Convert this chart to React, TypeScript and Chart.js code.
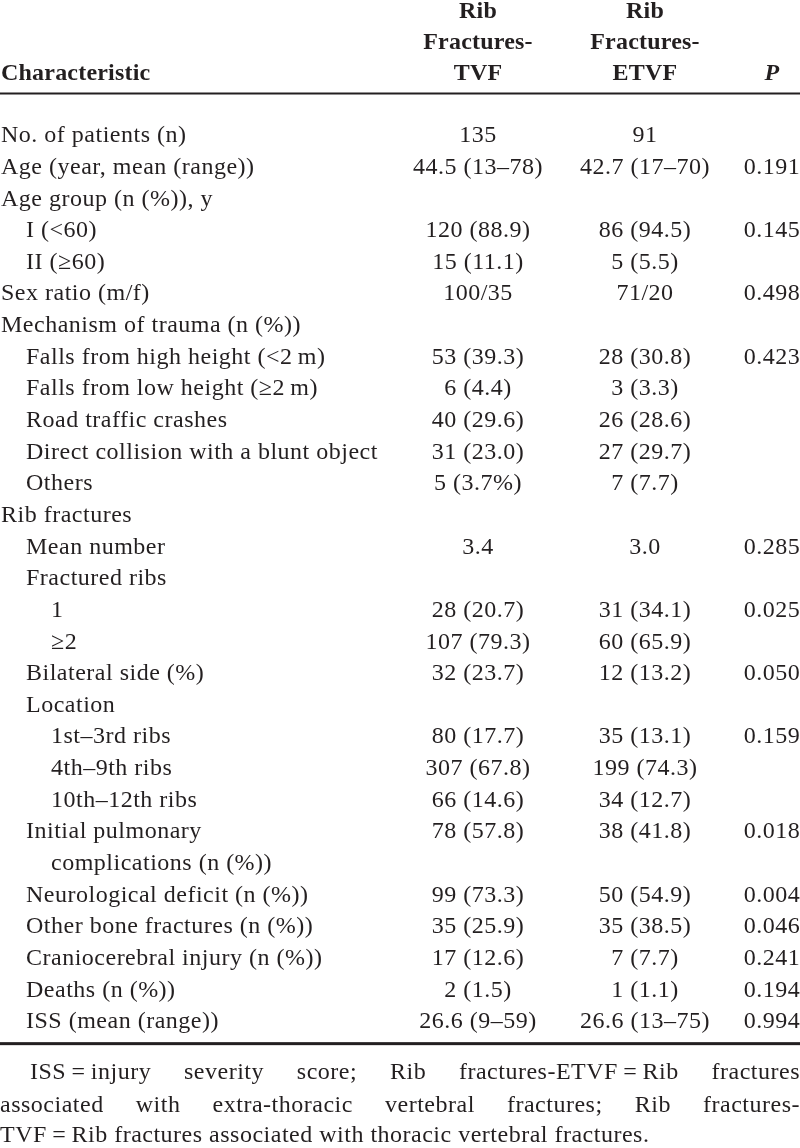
import React, { useEffect, useRef } from "react";
import { Chart, registerables } from "chart.js";

Chart.register(...registerables);

// ---------- data ----------
const headerTVF = ["Rib", "Fractures-", "TVF"];
const headerETVF = ["Rib", "Fractures-", "ETVF"];
const headerCharacteristic = "Characteristic";
const headerP = "P";

const rowLabels = [
  "No. of patients (n)",
  "Age (year, mean (range))",
  "Age group (n (%)), y",
  "I (<60)",
  "II (\u226560)",
  "Sex ratio (m/f)",
  "Mechanism of trauma (n (%))",
  "Falls from high height (<2\u2009m)",
  "Falls from low height (\u22652\u2009m)",
  "Road traffic crashes",
  "Direct collision with a blunt object",
  "Others",
  "Rib fractures",
  "Mean number",
  "Fractured ribs",
  "1",
  "\u22652",
  "Bilateral side (%)",
  "Location",
  "1st\u20133rd ribs",
  "4th\u20139th ribs",
  "10th\u201312th ribs",
  "Initial pulmonary",
  "complications (n (%))",
  "Neurological deficit (n (%))",
  "Other bone fractures (n (%))",
  "Craniocerebral injury (n (%))",
  "Deaths (n (%))",
  "ISS (mean (range))",
];

const rowIndent = [0, 0, 0, 1, 1, 0, 0, 1, 1, 1, 1, 1, 0, 1, 1, 2, 2, 1, 1, 2, 2, 2, 1, 2, 1, 1, 1, 1, 1];

const tvfValues = [
  "135", "44.5 (13\u201378)", "", "120 (88.9)", "15 (11.1)", "100/35", "",
  "53 (39.3)", "6 (4.4)", "40 (29.6)", "31 (23.0)", "5 (3.7%)", "",
  "3.4", "", "28 (20.7)", "107 (79.3)", "32 (23.7)", "",
  "80 (17.7)", "307 (67.8)", "66 (14.6)", "78 (57.8)", "",
  "99 (73.3)", "35 (25.9)", "17 (12.6)", "2 (1.5)", "26.6 (9\u201359)",
];

const etvfValues = [
  "91", "42.7 (17\u201370)", "", "86 (94.5)", "5 (5.5)", "71/20", "",
  "28 (30.8)", "3 (3.3)", "26 (28.6)", "27 (29.7)", "7 (7.7)", "",
  "3.0", "", "31 (34.1)", "60 (65.9)", "12 (13.2)", "",
  "35 (13.1)", "199 (74.3)", "34 (12.7)", "38 (41.8)", "",
  "50 (54.9)", "35 (38.5)", "7 (7.7)", "1 (1.1)", "26.6 (13\u201375)",
];

const pValues = [
  "", "0.191", "", "0.145", "", "0.498", "",
  "0.423", "", "", "", "", "",
  "0.285", "", "0.025", "", "0.050", "",
  "0.159", "", "", "0.018", "",
  "0.004", "0.046", "0.241", "0.194", "0.994",
];

const footnoteLines = [
  "ISS\u2009=\u2009injury severity score; Rib fractures-ETVF\u2009=\u2009Rib fractures",
  "associated with extra-thoracic vertebral fractures; Rib fractures-",
  "TVF\u2009=\u2009Rib fractures associated with thoracic vertebral fractures.",
];

// ---------- layout ----------
const W = 800;
const H = 1148;
const FIRST_ROW_PX = 134;
const ROW_PX = 31.64;
const TEXT_DY = 2;
const FONT_FAMILY = '"Liberation Serif", "Times New Roman", serif';
const FONT_SIZE = 24;
const TEXT_COLOR = "#231f20";
const LAYOUT = {
  labelLeft: 1,
  indentStep: 25,
  tvfCenter: 478,
  etvfCenter: 645,
  pCenter: 772,
  headerRows: [-3.92, -2.94, -1.96],
  headerRule: -1.28,
  bottomRule: 28.75,
  footRows: [29.62, 30.64, 31.6],
  footIndent: 30,
};

const tablePlugin = {
  id: "tablePlugin",
  afterDraw(chart: any) {
    const ctx: any = chart.ctx;
    const x = chart.scales.x;
    const y = chart.scales.y;
    const ty = (v: number) => y.getPixelForValue(v) + TEXT_DY;
    ctx.save();
    ctx.fillStyle = TEXT_COLOR;
    ctx.textBaseline = "middle";

    // header
    ctx.font = `bold ${FONT_SIZE}px ${FONT_FAMILY}`;
    ctx.letterSpacing = "0.2px";
    ctx.textAlign = "center";
    headerTVF.forEach((t, i) => ctx.fillText(t, x.getPixelForValue(LAYOUT.tvfCenter), ty(LAYOUT.headerRows[i])));
    headerETVF.forEach((t, i) => ctx.fillText(t, x.getPixelForValue(LAYOUT.etvfCenter), ty(LAYOUT.headerRows[i])));
    ctx.textAlign = "left";
    ctx.fillText(headerCharacteristic, x.getPixelForValue(LAYOUT.labelLeft), ty(LAYOUT.headerRows[2]));
    ctx.font = `italic bold ${FONT_SIZE}px ${FONT_FAMILY}`;
    ctx.textAlign = "center";
    ctx.fillText(headerP, x.getPixelForValue(LAYOUT.pCenter), ty(LAYOUT.headerRows[2]));

    // rules
    const rule = (v: number, lw: number) => {
      const py = y.getPixelForValue(v);
      ctx.fillRect(x.getPixelForValue(0), py - lw / 2, x.getPixelForValue(W) - x.getPixelForValue(0), lw);
    };
    rule(LAYOUT.headerRule, 2);
    rule(LAYOUT.bottomRule, 3);

    // body
    ctx.font = `${FONT_SIZE}px ${FONT_FAMILY}`;
    ctx.letterSpacing = "0.5px";
    rowLabels.forEach((label, i) => {
      const py = ty(i);
      ctx.textAlign = "left";
      ctx.fillText(label, x.getPixelForValue(LAYOUT.labelLeft + rowIndent[i] * LAYOUT.indentStep), py);
      ctx.textAlign = "center";
      if (tvfValues[i]) ctx.fillText(tvfValues[i], x.getPixelForValue(LAYOUT.tvfCenter), py);
      if (etvfValues[i]) ctx.fillText(etvfValues[i], x.getPixelForValue(LAYOUT.etvfCenter), py);
      if (pValues[i]) ctx.fillText(pValues[i], x.getPixelForValue(LAYOUT.pCenter), py);
    });

    // footnote (justified except last line)
    ctx.textAlign = "left";
    footnoteLines.forEach((line, i) => {
      const py = ty(LAYOUT.footRows[i]);
      const left = x.getPixelForValue(i === 0 ? LAYOUT.footIndent : 0);
      const right = x.getPixelForValue(W);
      if (i === footnoteLines.length - 1) {
        ctx.fillText(line, left, py);
        return;
      }
      const words = line.split(" ");
      const widths = words.map((w) => ctx.measureText(w).width);
      const total = widths.reduce((a, b) => a + b, 0);
      const gap = (right - left - total) / (words.length - 1);
      let cx = left;
      words.forEach((w, k) => {
        ctx.fillText(w, cx, py);
        cx += widths[k] + gap;
      });
    });
    ctx.restore();
  },
};

export default function App() {
  const canvasRef = useRef<HTMLCanvasElement | null>(null);
  useEffect(() => {
    document.body.style.margin = "0";
    const canvas = canvasRef.current;
    if (!canvas) return;
    const chart = new Chart(canvas, {
      type: "scatter",
      data: { datasets: [] },
      options: {
        animation: false,
        responsive: true,
        maintainAspectRatio: false,
        layout: { padding: 0 },
        plugins: { legend: { display: false }, tooltip: { enabled: false }, title: { display: false } },
        scales: {
          x: { type: "linear", min: 0, max: W, display: false },
          y: {
            type: "linear",
            reverse: true,
            min: -FIRST_ROW_PX / ROW_PX,
            max: (H - FIRST_ROW_PX) / ROW_PX,
            display: false,
          },
        },
      },
      plugins: [tablePlugin],
    });
    return () => chart.destroy();
  }, []);
  return (
    <div style={{ width: W, height: H, position: "relative", background: "#fff" }}>
      <canvas ref={canvasRef} />
    </div>
  );
}
